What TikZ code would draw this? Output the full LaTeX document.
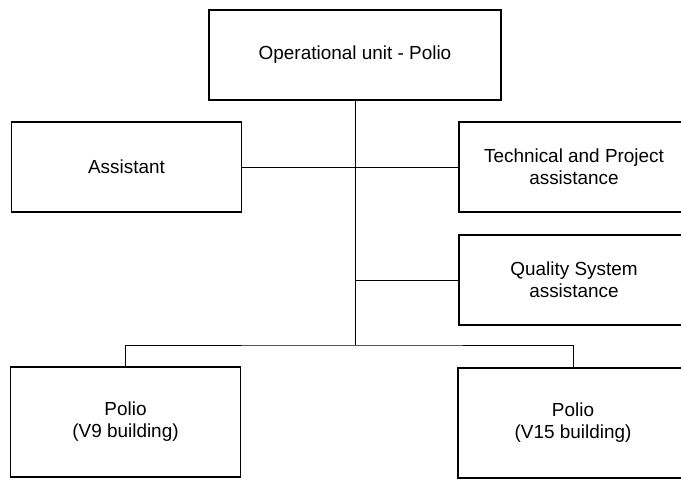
\documentclass[tikz,border=0pt]{standalone}
\usepackage{fontspec}
\setmainfont{Liberation Sans}
\begin{document}
\begin{tikzpicture}[x=0.75pt,y=-0.75pt,
    unitbox/.style={draw,line width=1.4pt,align=center,minimum width=230*0.75pt,minimum height=90*0.75pt,inner sep=2pt,font=\fontsize{14.2}{16.5}\selectfont},
    link/.style={line width=0.6pt}]
    \useasboundingbox (0,0) rectangle (681,478);
    \node[unitbox,minimum width=292*0.75pt] (ouPolio) at (355,55) {Operational unit - Polio};
    \node[unitbox] (assistant) at (126.5,167) {Assistant};
    \node[unitbox] (techProj) at (574,167) {Technical and Project\\assistance};
    \node[unitbox] (quality) at (574,280) {Quality System\\assistance};
    \node[unitbox,minimum height=110*0.75pt] (polioV9) at (125.5,422) {Polio\\(V9 building)};
    \node[unitbox,minimum height=110*0.75pt] (polioV15) at (573,423) {Polio\\(V15 building)};
    \coordinate (bus) at (355,345);
    \draw[link] (ouPolio.south) -- (bus);
    \draw[link] (assistant.east) -- (techProj.west);
    \draw[link] (ouPolio.south |- quality.west) -- (quality.west);
    \draw[link] (polioV9.north) |- (bus) -| (polioV15.north);
\end{tikzpicture}
\end{document}
